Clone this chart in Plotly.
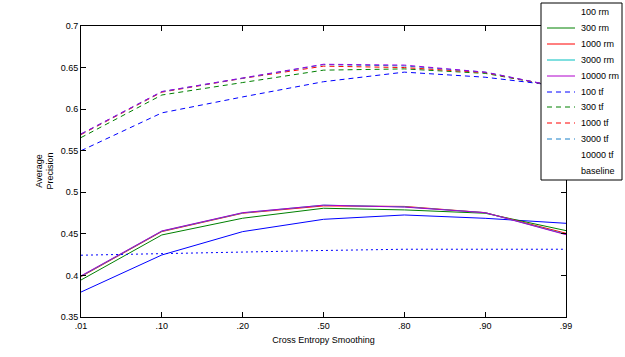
import plotly.graph_objects as go

smoothing = [".01", ".10", ".20", ".50", ".80", ".90", ".99"]

rm_100 = [0.380, 0.4246, 0.4527, 0.4675, 0.4727, 0.4687, 0.4627]
rm_300 = [0.3945, 0.4487, 0.4688, 0.4808, 0.4788, 0.4748, 0.4539]
rm_1000 = [0.3985, 0.4527, 0.4748, 0.4836, 0.4830, 0.4755, 0.4507]
rm_3000 = [0.3990, 0.4532, 0.4752, 0.4845, 0.4825, 0.4755, 0.4495]
rm_10000 = [0.3995, 0.4535, 0.4755, 0.4845, 0.4822, 0.4755, 0.4490]

tf_100 = [0.5500, 0.5955, 0.6147, 0.6330, 0.6445, 0.6384, 0.6270]
tf_300 = [0.5658, 0.6170, 0.6320, 0.6469, 0.6484, 0.6430, 0.6255]
tf_1000 = [0.5694, 0.6204, 0.6370, 0.6517, 0.6500, 0.6440, 0.6250]
tf_3000 = [0.5700, 0.6210, 0.6372, 0.6535, 0.6520, 0.6445, 0.6250]
tf_10000 = [0.5702, 0.6212, 0.6375, 0.6540, 0.6530, 0.6445, 0.6250]

baseline = [0.4243, 0.4265, 0.4280, 0.4300, 0.4315, 0.4315, 0.4315]

# name, values, colour, dash, sample shown in legend
series = [
    ("100 rm", rm_100, "#0000ff", "solid", False),
    ("300 rm", rm_300, "#008000", "solid", True),
    ("1000 rm", rm_1000, "#ff0000", "solid", True),
    ("3000 rm", rm_3000, "#00bfbf", "solid", True),
    ("10000 rm", rm_10000, "#b000cc", "solid", True),
    ("100 tf", tf_100, "#0000ff", "5px,4px", True),
    ("300 tf", tf_300, "#008000", "5px,4px", True),
    ("1000 tf", tf_1000, "#ff0000", "5px,4px", True),
    ("3000 tf", tf_3000, "#1a80c8", "5px,4px", True),
    ("10000 tf", tf_10000, "#9b00e0", "5px,4px", False),
    ("baseline", baseline, "#0000ff", "2px,3px", False),
]

W, H = 625, 357
# plot area in window pixels: x 81..566, y 26..317
PL, PR, PT, PB = 81, 566, 26, 317
ML, MR, MT, MB = PL, W - PR, PT, H - PB
PW, PH = PR - PL, PB - PT


def px_x(px):
    return (px - PL) / PW


def px_y(py):
    return (PB - py) / PH


fig = go.Figure()
for name, vals, color, dash, _ in series:
    fig.add_trace(go.Scatter(
        x=smoothing, y=vals, name=name, mode="lines",
        line=dict(color=color, width=1, dash=dash),
    ))

font = dict(family="Liberation Sans, Arial, sans-serif", size=9, color="black")

shapes = []
annotations = []
# legend box
shapes.append(dict(type="rect", xref="paper", yref="paper",
                   x0=px_x(541), x1=px_x(622), y0=px_y(180), y1=px_y(3),
                   line=dict(color="black", width=1), fillcolor="white",
                   layer="above"))
for i, (name, vals, color, dash, show) in enumerate(series):
    cy = round(12 + i * 15.9)
    if show:
        shapes.append(dict(type="line", xref="paper", yref="paper",
                           x0=px_x(547), x1=px_x(575), y0=px_y(cy), y1=px_y(cy),
                           line=dict(color=color, width=1, dash=dash),
                           layer="above"))
    annotations.append(dict(text=name, xref="paper", yref="paper",
                            x=px_x(579), y=px_y(cy), xanchor="left",
                            yanchor="middle", showarrow=False, font=font))

annotations.append(dict(text="Average<br>Precision", xref="paper", yref="paper",
                        x=px_x(44), y=0.5, xanchor="center", yanchor="middle",
                        textangle=-90, showarrow=False, font=font))

fig.update_layout(
    width=W, height=H,
    margin=dict(l=ML, r=MR, t=MT, b=MB, autoexpand=False),
    paper_bgcolor="white", plot_bgcolor="white",
    font=font,
    showlegend=False,
    hovermode=False,
    shapes=shapes,
    annotations=annotations,
    xaxis=dict(
        type="category", categoryorder="array", categoryarray=smoothing,
        range=[0, 6], showgrid=False, zeroline=False,
        showline=True, linecolor="black", linewidth=1, mirror="ticks",
        ticks="inside", ticklen=5, tickcolor="black", automargin=False,
        title=dict(text="Cross Entropy Smoothing", font=font, standoff=6),
    ),
    yaxis=dict(
        range=[0.35, 0.7], tickvals=[0.35, 0.4, 0.45, 0.5, 0.55, 0.6, 0.65, 0.7],
        ticktext=["0.35", "0.4", "0.45", "0.5", "0.55", "0.6", "0.65", "0.7"],
        showgrid=False, zeroline=False, automargin=False,
        showline=True, linecolor="black", linewidth=1, mirror="ticks",
        ticks="inside", ticklen=5, tickcolor="black",
    ),
)

fig.write_html(
    "out.html",
    config={"displayModeBar": False, "staticPlot": True},
    post_script="document.body.style.margin='0px';document.body.style.overflow='hidden';",
)
